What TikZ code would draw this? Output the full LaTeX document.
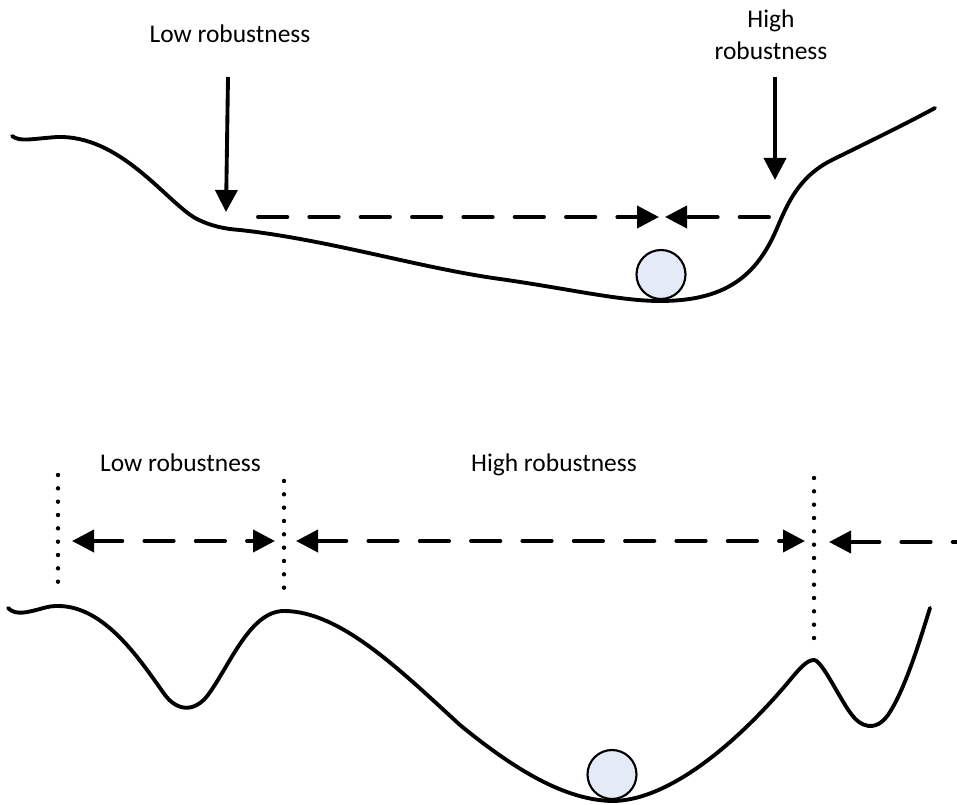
\documentclass[tikz,border=0pt]{standalone}
\usepackage{fontspec}
\setmainfont{Carlito}
\usetikzlibrary{arrows.meta}
\definecolor{ballfill}{RGB}{228,235,247}
\begin{document}
\begin{tikzpicture}[x=0.75pt,y=-0.75pt,
  curve/.style={line width=2.9pt, line cap=round, line join=round},
  solidarrow/.style={line width=2.9pt, -{Triangle[length=16.5pt,width=16.5pt]}},
  dasharrow/.style={line width=2.9pt, line cap=round, dash pattern=on 22pt off 16.5pt},
  dotline/.style={line width=3.3pt, line cap=round, dash pattern=on 0pt off 10pt},
  txt/.style={font=\fontsize{19.1}{24.5}\selectfont, inner sep=0pt, anchor=base},
  ball/.style={circle, draw, line width=1.6pt, fill=ballfill, minimum size=36.75pt, inner sep=0pt}
]
\useasboundingbox (0,0) rectangle (957,805);
\clip (0,0) rectangle (957,805);

% ---------- top panel ----------
\draw[curve] (12,136) .. controls (20,142) and (30,139) .. (57,137)
  .. controls (120,135) and (165,200) .. (195,218)
  .. controls (210,226) and (225,229) .. (240,230)
  .. controls (330,240) and (420,268) .. (500,279)
  .. controls (570,289) and (620,301) .. (660,301)
  .. controls (720,301) and (750,280) .. (770,243)
  .. controls (783,219) and (790,182) .. (830,161)
  .. controls (860,146) and (900,127) .. (935,108);

\node[ball] (ball1) at (661,274.5) {};

\node[txt] (tlow) at (230,43) {Low robustness};
\node[txt, align=center] (thigh) at (771,60) {High\\robustness};

\coordinate (a1s) at (228,77);
\coordinate (a1e) at (226,212);
\coordinate (a2s) at (775,77);
\coordinate (a2e) at (775,180);
\draw[solidarrow] (a1s) -- (a1e);
\draw[solidarrow] (a2s) -- (a2e);

\coordinate (d1s) at (258,217);
\coordinate (d1e) at (659,217);
\coordinate (d2s) at (769,217);
\coordinate (d2e) at (665,217);
\draw[dasharrow, -{Triangle[length=16.5pt,width=16.5pt]}] (d1s) -- (d1e);
\draw[dasharrow, -{Triangle[length=16.5pt,width=16.5pt]}] (d2s) -- (d2e);

% ---------- bottom panel ----------
\draw[curve] (8,608) .. controls (16,616) and (28,612) .. (40,609)
  .. controls (50,606) and (54,606) .. (58,606)
  .. controls (105,606) and (140,660) .. (165,695)
  .. controls (178,712) and (195,712) .. (208,695)
  .. controls (230,665) and (250,611) .. (284,611)
  .. controls (340,611) and (400,670) .. (460,725)
  .. controls (515,770) and (565,800) .. (612,801)
  .. controls (670,801) and (740,740) .. (790,680)
  .. controls (800,668) and (807,660) .. (814,660)
  .. controls (822,660) and (840,700) .. (852,715)
  .. controls (860,726) and (875,733) .. (888,715)
  .. controls (905,690) and (920,640) .. (930,608);

\node[ball] (ball2) at (612,774.5) {};

\node[txt] (blow) at (180.5,472) {Low robustness};
\node[txt] (bhigh) at (554,472) {High robustness};

\coordinate (v1t) at (58,475);
\coordinate (v1b) at (58,595);
\coordinate (v2t) at (284,481);
\coordinate (v2b) at (284,600);
\coordinate (v3t) at (814,478);
\coordinate (v3b) at (814,651);
\draw[dotline] (v1t) -- (v1b);
\draw[dotline] (v2t) -- (v2b);
\draw[dotline] (v3t) -- (v3b);

\coordinate (e1a) at (72,541);
\coordinate (e1b) at (275,541);
\coordinate (e2a) at (296,541);
\coordinate (e2b) at (805,541);
\coordinate (e3a) at (829,542);
\coordinate (e3b) at (962,542);
\draw[dasharrow, {Triangle[length=16.5pt,width=16.5pt]}-{Triangle[length=16.5pt,width=16.5pt]}] (e1a) -- (e1b);
\draw[dasharrow, {Triangle[length=16.5pt,width=16.5pt]}-{Triangle[length=16.5pt,width=16.5pt]}] (e2a) -- (e2b);
\draw[dasharrow, {Triangle[length=16.5pt,width=16.5pt]}-] (e3a) -- (e3b);
\end{tikzpicture}
\end{document}
